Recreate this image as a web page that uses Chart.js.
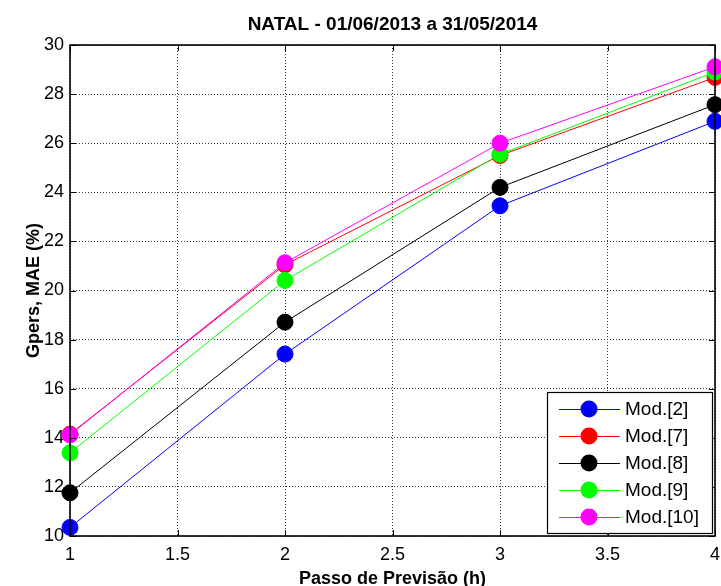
<!DOCTYPE html>
<html>
<head>
<meta charset="utf-8">
<script src="https://cdn.jsdelivr.net/npm/chart.js@4"></script>
<style>
	html, body { margin: 0; padding: 0; background: #fff; }
	#wrap { width: 721px; height: 586px; }
</style>
</head>
<body>
<div id="wrap"><canvas id="chart" width="721" height="586"></canvas></div>
<script>
const steps = [1, 2, 3, 4];
const mod2 = [10.35, 17.41, 23.45, 26.89];
const mod7 = [14.15, 21.05, 25.5, 28.68];
const mod8 = [11.76, 18.71, 24.2, 27.57];
const mod9 = [13.39, 20.41, 25.55, 28.9];
const mod10 = [14.12, 21.13, 26.0, 29.11];
const seriesNames = ["Mod.[2]", "Mod.[7]", "Mod.[8]", "Mod.[9]", "Mod.[10]"];
const seriesColors = ["#0000ff", "#ff0000", "#000000", "#00ff00", "#ff00ff"];
const xTicks = [1, 1.5, 2, 2.5, 3, 3.5, 4];
const yTicks = [10, 12, 14, 16, 18, 20, 22, 24, 26, 28, 30];
const titleText = "NATAL - 01/06/2013 a 31/05/2014";
const xTitle = "Passo de Previsão (h)";
const yTitle = "Gpers, MAE (%)";

const FONT = "'Liberation Sans', Arial, sans-serif";

function makeSet(name, values, color, order) {
	return {
		label: name,
		data: values.map((v, i) => ({ x: steps[i], y: v })),
		borderColor: color,
		backgroundColor: color,
		borderWidth: 1,
		pointRadius: 8,
		pointBorderWidth: 1,
		pointBackgroundColor: color,
		pointBorderColor: color,
		tension: 0,
		clip: false,
		order: order,
	};
}

/*frame, inward ticks, titles and boxed legend like the matlab figure*/
const matlabFrame = {
	id: "matlabFrame",
	afterDraw(chart) {
		const { ctx, chartArea: a, scales } = chart;
		const x = scales.x;
		const y = scales.y;
		ctx.save();
		ctx.strokeStyle = "#000";
		ctx.lineWidth = 1;
		ctx.beginPath();
		xTicks.forEach((v) => {
			const px = Math.round(x.getPixelForValue(v)) + 0.5;
			ctx.moveTo(px, a.bottom);
			ctx.lineTo(px, a.bottom - 6);
			ctx.moveTo(px, a.top);
			ctx.lineTo(px, a.top + 6);
		});
		yTicks.forEach((v) => {
			const py = Math.round(y.getPixelForValue(v)) + 0.5;
			ctx.moveTo(a.left, py);
			ctx.lineTo(a.left + 6, py);
			ctx.moveTo(a.right, py);
			ctx.lineTo(a.right - 6, py);
		});
		ctx.stroke();
		ctx.lineWidth = 1.6;
		ctx.strokeRect(a.left, a.top, a.right - a.left, a.bottom - a.top);

		/*titles*/
		ctx.fillStyle = "#000";
		ctx.textAlign = "center";
		ctx.textBaseline = "alphabetic";
		ctx.font = "bold 19px " + FONT;
		const cx = (a.left + a.right) / 2;
		ctx.fillText(titleText, cx, 30);
		ctx.font = "bold 18px " + FONT;
		ctx.fillText(xTitle, cx, 584);
		ctx.save();
		ctx.translate(39, (a.top + a.bottom) / 2);
		ctx.rotate(-Math.PI / 2);
		ctx.fillText(yTitle, 0, 0);
		ctx.restore();

		/*legend*/
		const bw = 165;
		const bh = 141;
		const bx = a.right - 3 - bw;
		const by = a.bottom - 3 - bh;
		ctx.fillStyle = "#fff";
		ctx.fillRect(bx, by, bw, bh);
		ctx.lineWidth = 1.2;
		ctx.strokeStyle = "#000";
		ctx.strokeRect(bx + 0.5, by + 0.5, bw, bh);
		ctx.font = "19px " + FONT;
		ctx.textAlign = "left";
		ctx.textBaseline = "middle";
		seriesNames.forEach((name, i) => {
			const ry = by + 17 + i * 27;
			ctx.strokeStyle = seriesColors[i];
			ctx.lineWidth = 1;
			ctx.beginPath();
			ctx.moveTo(bx + 12, ry + 0.5);
			ctx.lineTo(bx + 73, ry + 0.5);
			ctx.stroke();
			ctx.fillStyle = seriesColors[i];
			ctx.beginPath();
			ctx.arc(bx + 42, ry, 8.5, 0, Math.PI * 2);
			ctx.fill();
			ctx.fillStyle = "#000";
			ctx.fillText(name, bx + 78, ry + 1);
		});
		ctx.restore();
	},
};

const gridStyle = {
	color: "#333",
	lineWidth: 1,
	drawTicks: false,
};

new Chart(document.getElementById("chart"), {
	type: "line",
	data: {
		datasets: [
			makeSet(seriesNames[0], mod2, seriesColors[0], 5),
			makeSet(seriesNames[1], mod7, seriesColors[1], 4),
			makeSet(seriesNames[2], mod8, seriesColors[2], 3),
			makeSet(seriesNames[3], mod9, seriesColors[3], 2),
			makeSet(seriesNames[4], mod10, seriesColors[4], 1),
		],
	},
	options: {
		responsive: false,
		animation: false,
		events: [],
		layout: { autoPadding: false, padding: { top: 45, right: 6, left: 0, bottom: 0 } },
		plugins: {
			legend: { display: false },
			title: { display: false },
			tooltip: { enabled: false },
		},
		scales: {
			x: {
				type: "linear",
				min: 1,
				max: 4,
				afterBuildTicks: (s) => {
					s.ticks = xTicks.map((v) => ({ value: v }));
				},
				afterFit: (s) => {
					s.height = 50;
					s.paddingLeft = 0;
					s.paddingRight = 0;
				},
				grid: gridStyle,
				border: { display: false, dash: [1, 2] },
				ticks: {
					color: "#000",
					padding: 8,
					maxRotation: 0,
					font: { family: FONT, size: 18 },
					callback: (v) => String(v),
				},
			},
			y: {
				type: "linear",
				min: 10,
				max: 30,
				afterBuildTicks: (s) => {
					s.ticks = yTicks.map((v) => ({ value: v }));
				},
				afterFit: (s) => {
					s.width = 70;
					s.paddingTop = 0;
					s.paddingBottom = 0;
				},
				grid: gridStyle,
				border: { display: false, dash: [1, 2] },
				ticks: {
					color: "#000",
					padding: 6,
					font: { family: FONT, size: 18 },
					callback: (v) => String(v),
				},
			},
		},
	},
	plugins: [matlabFrame],
});
</script>
</body>
</html>
